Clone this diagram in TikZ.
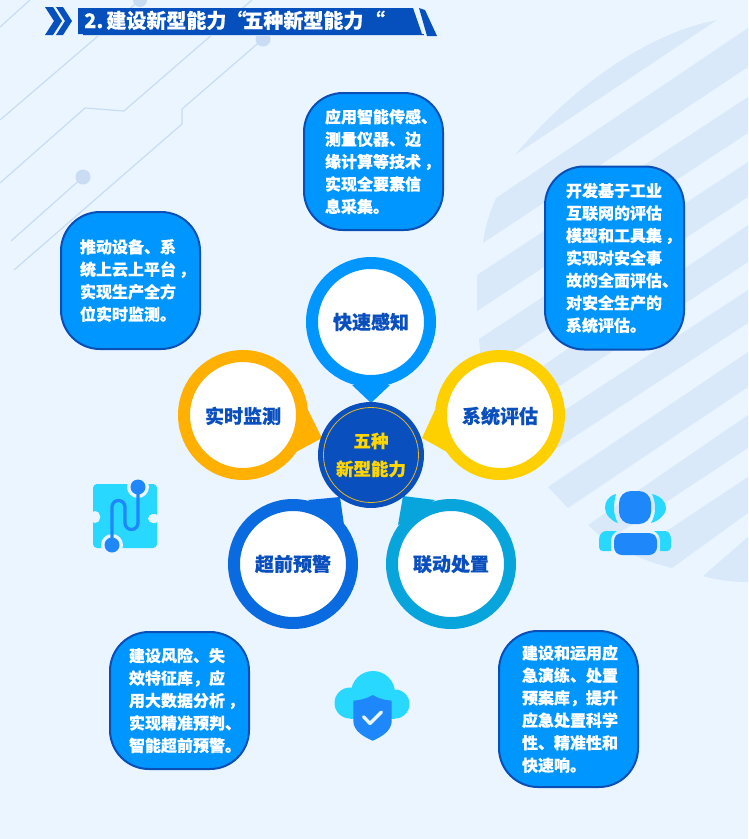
\documentclass[tikz,border=0pt]{standalone}
\usepackage{fontspec}
\setmainfont{Noto Sans CJK SC}[BoldFeatures={FakeBold=0.35}]
\definecolor{bgc}{HTML}{EAF5FF}
\definecolor{stripec}{HTML}{DAE9F9}
\definecolor{circuitc}{HTML}{C9DCF4}
\definecolor{navy}{HTML}{0A4FBE}
\definecolor{bannerc}{HTML}{0650BD}
\definecolor{sky}{HTML}{0096FF}
\definecolor{boxedge}{HTML}{0A4FB5}
\definecolor{amberc}{HTML}{FFB000}
\definecolor{yellowc}{HTML}{FFD000}
\definecolor{royalc}{HTML}{0A6BE0}
\definecolor{tealc}{HTML}{08A5DC}
\definecolor{goldc}{HTML}{E8B820}
\definecolor{labelgold}{HTML}{FFD500}
\definecolor{iconblue}{HTML}{1E88FA}
\definecolor{iconcyan}{HTML}{28D8FF}
\tikzset{
  infobox/.style={draw=boxedge,line width=2pt,fill=sky,rounded corners=39pt,minimum width=139pt,
    inner xsep=21pt,text width=97pt,align=left,text=white,anchor=north west,
    font=\bfseries\fontsize{16}{22.45}\selectfont},
  textleft/.style={inner xsep=19pt,text width=101pt},
  textright/.style={inner xsep=23pt,text width=93pt},
  ringnode/.style={circle,fill=white,line width=12pt,minimum size=118pt,inner sep=0pt,text=navy,
    font=\bfseries\fontsize{19}{22}\selectfont},
  circuit/.style={draw=circuitc,line width=1.2pt},
  stripe/.style={fill=stripec},
}
\newcommand{\cm}{\rlap{\kern3pt ，}}
\begin{document}
\begin{tikzpicture}[x=1pt,y=-1pt]
\useasboundingbox (0,0) rectangle (748,839);
\clip (0,0) rectangle (748,839);
\fill[bgc] (0,0) rectangle (748,839);
% stripes
\fill[stripe] (515,155) .. controls (565,95) and (640,35) .. (717,20) -- cycle;
\fill[stripe] (496,198) -- (748,28) -- (748,67) -- (483,243) .. controls (485,226) and (490,212) .. (496,198) -- cycle;
\fill[stripe] (477,275) -- (748,97) -- (748,133) -- (477,311) -- cycle;
\fill[stripe] (479,339) -- (748,162) -- (748,197) -- (482,372) -- cycle;
\fill[stripe] (505,392) -- (748,225) -- (748,262) -- (505,422) -- cycle;
\fill[stripe] (510,446) -- (748,290) -- (748,323) -- (510,479) -- cycle;
\fill[stripe] (548,487) -- (748,352) -- (748,387) -- (568,508) -- cycle;
\fill[stripe] (588,525) -- (748,415) -- (748,448) -- (607,541) .. controls (600,536) and (594,531) .. (588,525) -- cycle;
\fill[stripe] (632,554) -- (748,477) -- (748,513) -- (672,568) .. controls (657,564) and (644,560) .. (632,554) -- cycle;
\fill[stripe] (703,576) -- (748,537) -- (748,582) .. controls (732,582) and (717,580) .. (703,576) -- cycle;
% circuit lines
\draw[circuit] (0,27) -- (30,0);
\draw[circuit] (0,120) -- (140,0);
\draw[circuit] (0,183) -- (85,108) -- (124,111) -- (252,0);
\draw[circuit] (14,270) -- (182,124) -- (182,109) -- (263,39);
\draw[circuit] (11,241) -- (83,177);
\fill[circuitc] (140,0) circle (7pt);
\fill[circuitc] (263,39) circle (7.5pt);
\fill[circuitc] (83,177) circle (7.5pt);
% title
\fill[bannerc] (45,7) -- (53,7) -- (62,21) -- (53,35) -- (45,35) -- (54,21) -- cycle;
\fill[bannerc] (56,7) -- (63,7) -- (72,21) -- (63,35) -- (56,35) -- (65,21) -- cycle;
\fill[bgc!60!navy!45] (83,34) rectangle (424,36);
\fill[bannerc] (78,8) -- (413,8) -- (422,34) -- (78,34) -- cycle;
\fill[bannerc] (419,8) -- (425,10) -- (437,36) -- (427,36) -- cycle;
\fill[bannerc] (83,34) rectangle (424,35);
\node[anchor=base west,inner sep=0pt,text=white,font=\bfseries\fontsize{20}{24}\selectfont] (title) at (84,28) {2.\kern3pt 建设新型能力“\kern-3pt 五种新型能力\kern-3pt{} “};
% info boxes
\node[infobox,minimum height=137pt] (b1) at (303,92) {应用智能传感、\\测量仪器、边\\缘计算等技术\cm\\实现全要素信\\息采集。};
\node[infobox,textleft,minimum height=137pt] (b2) at (60,211) {推动设备、系\\统上云上平台\cm\\实现生产全方\\位实时监测。};
\node[infobox,minimum height=183pt] (b3) at (544,165.5) {开发基于工业\\互联网的评估\\模型和工具集\cm\\实现对安全事\\故的全面评估、\\对安全生产的\\系统评估。};
\node[infobox,textleft,minimum height=137pt] (b4) at (109,631) {建设风险、失\\效特征库，应\\用大数据分析\cm\\实现精准预判、\\智能超前预警。};
\node[infobox,textright,minimum height=156pt] (b5) at (498,630) {建设和运用应\\急演练、处置\\预案库，提升\\应急处置科学\\性、精准性和\\快速响。};
% pins
\coordinate (c1a) at (352,385); \coordinate (c1t) at (371,403); \coordinate (c1b) at (390,385);
\coordinate (c2a) at (308,410); \coordinate (c2t) at (322,438); \coordinate (c2b) at (296,452);
\coordinate (c3a) at (435,410); \coordinate (c3t) at (422,438); \coordinate (c3b) at (447,452);
\coordinate (c4a) at (308,500); \coordinate (c4t) at (340,497); \coordinate (c4b) at (344,525);
\coordinate (c5a) at (435,500); \coordinate (c5t) at (403,496); \coordinate (c5b) at (398,525);
\fill[sky] (c1a) -- (c1t) -- (c1b) -- cycle;
\fill[amberc] (c2a) -- (c2t) -- (c2b) -- cycle;
\fill[yellowc] (c3a) -- (c3t) -- (c3b) -- cycle;
\fill[royalc] (c4a) -- (c4t) -- (c4b) -- cycle;
\fill[tealc] (c5a) -- (c5t) -- (c5b) -- cycle;
\node[ringnode,draw=sky] (n1) at (371,322) {快速感知};
\node[ringnode,draw=amberc,text depth=-1pt] (n2) at (243,415) {实时监测};
\node[ringnode,draw=yellowc,text depth=-1pt] (n3) at (500,415) {系统评估};
\node[ringnode,draw=royalc] (n4) at (293,564) {超前预警};
\node[ringnode,draw=tealc] (n5) at (451,564) {联动处置};
% centre
\node[circle,fill=navy,minimum size=106pt,inner sep=0pt,align=center,text=labelgold,
  font=\bfseries\fontsize{17.5}{28}\selectfont] (core) at (371,455) {五种\\新型能力};
\node[circle,draw=goldc,line width=.8pt,minimum size=95pt,inner sep=0pt] (corering) at (core) {};
% puzzle icon
\fill[iconcyan,rounded corners=4pt] (93,484) rectangle (157,548);
\fill[bgc,rounded corners=5pt] (90,511) rectangle (100,523);
\fill[bgc,rounded corners=5pt] (148,514) rectangle (160,523);
\fill[bgc] (138,487) circle (11pt);
\fill[bgc] (112,545) circle (11pt);
\draw[iconblue,line width=3.3pt] (112,545) -- (112,507) arc[start angle=180,end angle=0,radius=6.5pt] -- (125,523) arc[start angle=180,end angle=360,radius=6.5pt] -- (138,487);
\fill[iconblue] (138,487) circle (7.5pt);
\fill[iconblue] (112,545) circle (7.5pt);
% person icon
\fill[iconblue,rounded corners=12pt] (619,491) rectangle (651,524);
\fill[iconblue,rounded corners=8pt] (614,533) rectangle (657,555);
\fill[iconcyan] (616,494) .. controls (608,496) and (605,502) .. (605,508) .. controls (605,514) and (611,521) .. (618,523) .. controls (615,518) and (614,513) .. (614,508) .. controls (614,503) and (615,498) .. (616,494) -- cycle;
\fill[iconcyan] (652,494) .. controls (661,496) and (666,502) .. (666,508) .. controls (666,514) and (659,521) .. (651,523) .. controls (654,518) and (655,513) .. (655,508) .. controls (655,503) and (654,498) .. (652,494) -- cycle;
\fill[iconcyan] (617,531) -- (606,531) .. controls (602,531) and (599,535) .. (599,540) -- (599,547) .. controls (599,550) and (601,551) .. (603,551) -- (611,551) -- (611,540) .. controls (611,536) and (614,533) .. (617,531) -- cycle;
\fill[iconcyan] (654,531) -- (665,531) .. controls (669,531) and (671,535) .. (671,540) -- (671,547) .. controls (671,550) and (669,551) .. (667,551) -- (660,551) -- (660,540) .. controls (660,536) and (657,533) .. (654,531) -- cycle;
% cloud icon
\fill[iconcyan] (373,693) circle (22pt);
\fill[iconcyan] (350,703) circle (15.5pt);
\fill[iconcyan] (395,704) circle (14.5pt);
\fill[iconcyan] (350,700) rectangle (395,718.5);
\fill[iconblue] (372.7,695) .. controls (366,699) and (360,700) .. (353.3,700.7) -- (353.3,721) .. controls (353.3,731) and (364,737) .. (372.7,740.7) .. controls (381,737) and (391.7,731) .. (391.7,721) -- (391.7,700.7) .. controls (385,700) and (379,699) .. (372.7,695) -- cycle;
\draw[bgc,line width=3.3pt,line cap=round,line join=round] (363.5,716.7) -- (370,723.5) -- (381.5,712);
\end{tikzpicture}
\end{document}
